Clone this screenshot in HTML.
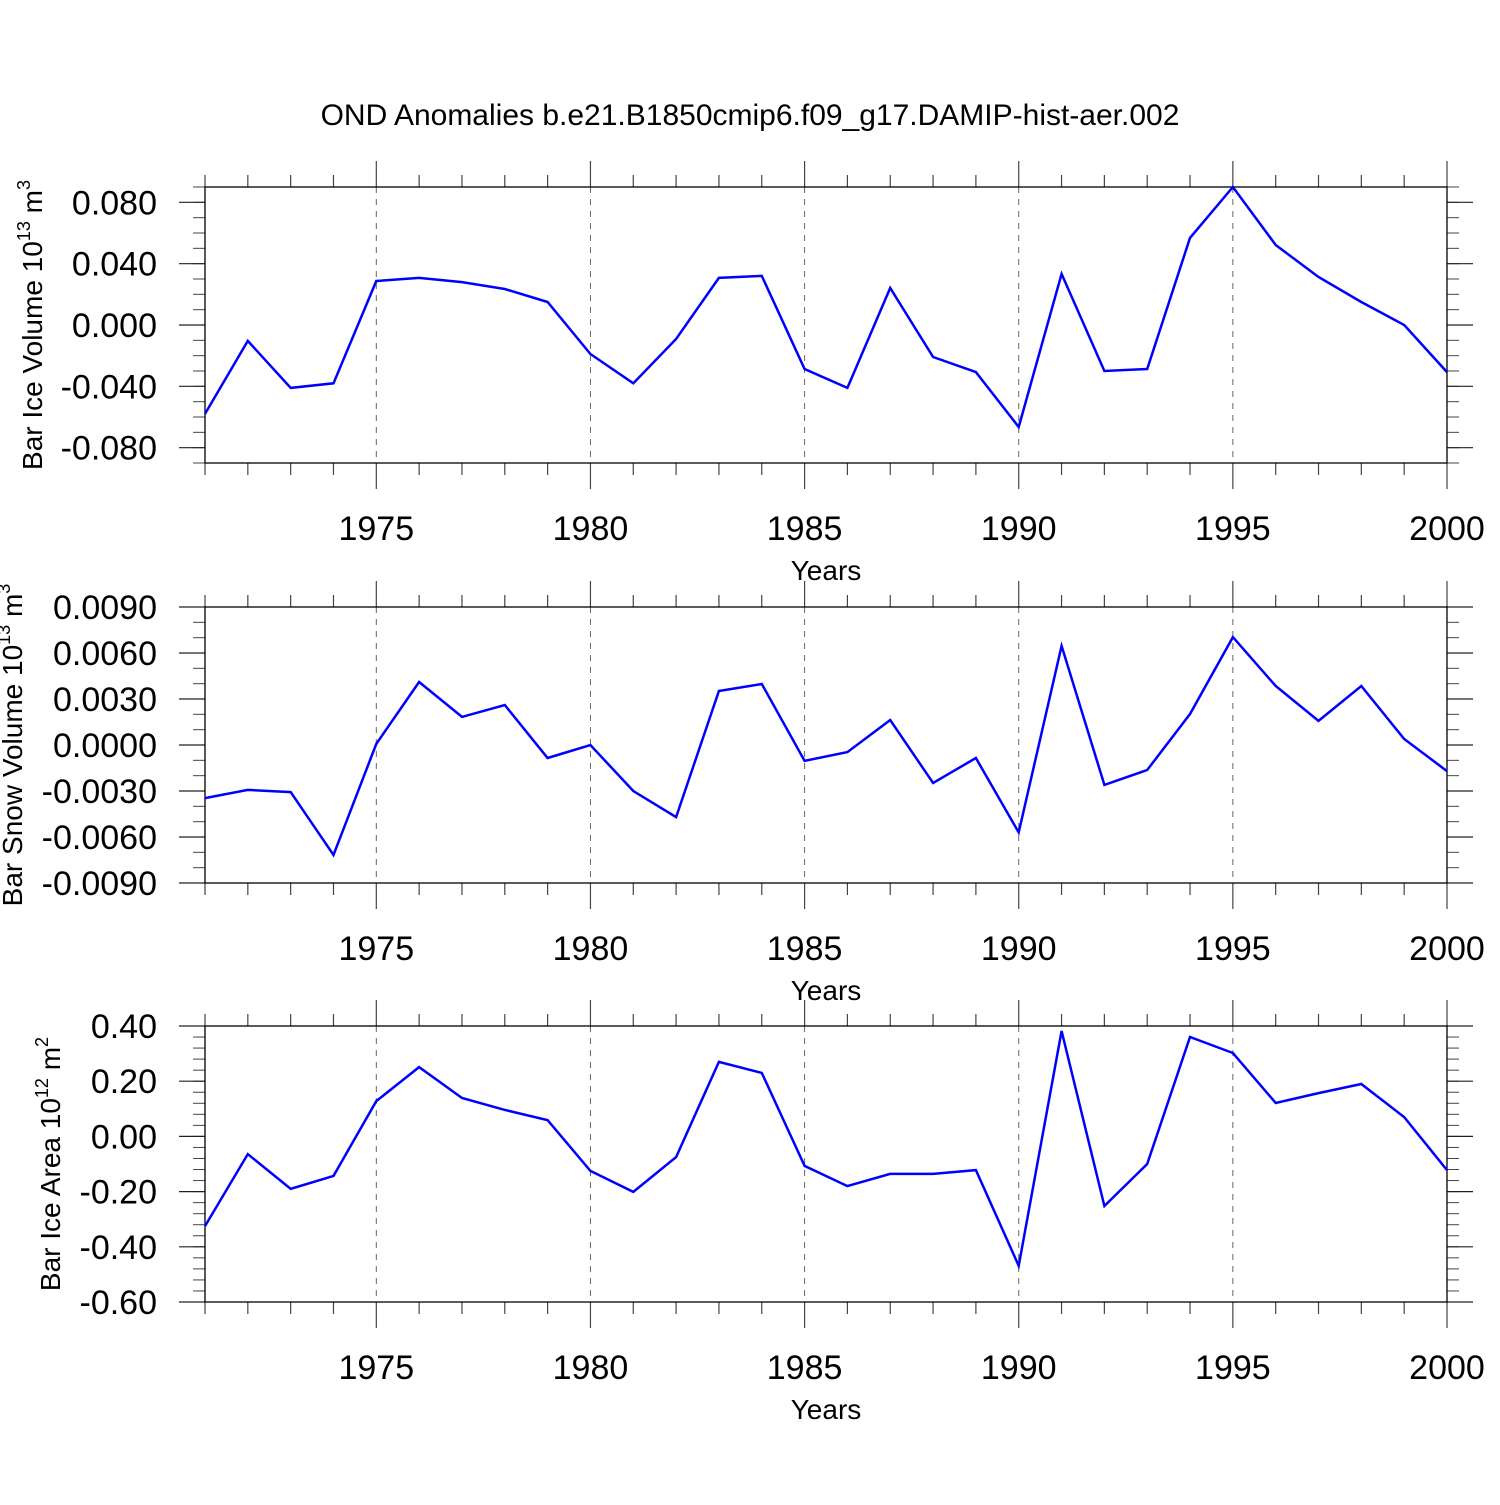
<!DOCTYPE html>
<html><head><meta charset="utf-8"><style>
html,body{margin:0;padding:0;background:#fff}
svg text{font-family:"Liberation Sans",sans-serif;fill:#000}
</style></head><body>
<svg id="chart" width="1500" height="1500" viewBox="0 0 1500 1500" xmlns="http://www.w3.org/2000/svg">
<text x="750" y="125" font-size="30" text-anchor="middle">OND Anomalies b.e21.B1850cmip6.f09_g17.DAMIP-hist-aer.002</text>
</svg>
<script>
const years = [];
for (let y = 1971; y <= 2000; y++) years.push(y);
const iceVolume = [-0.058,-0.0104,-0.041,-0.038,0.0287,0.0307,0.028,0.0235,0.015,-0.0189,-0.038,-0.0091,0.0307,0.032,-0.0287,-0.041,0.0241,-0.0209,-0.0307,-0.0665,0.0333,-0.030,-0.0287,0.0568,0.090,0.0522,0.0313,0.015,0.0,-0.0307];
const snowVolume = [-0.00346,-0.00293,-0.00307,-0.00717,0.00007,0.00411,0.00183,0.00261,-0.00085,0.0,-0.0030,-0.0047,0.00352,0.00398,-0.00104,-0.00046,0.00163,-0.00248,-0.00085,-0.0057,0.00646,-0.0026,-0.00163,0.00202,0.00704,0.00385,0.00157,0.00385,0.00039,-0.0017];
const iceArea = [-0.325,-0.064,-0.19,-0.143,0.128,0.251,0.139,0.096,0.059,-0.125,-0.201,-0.075,0.27,0.23,-0.107,-0.18,-0.136,-0.136,-0.122,-0.469,0.382,-0.252,-0.1,0.36,0.302,0.121,0.157,0.19,0.07,-0.122];
const xTickYears = [1975,1980,1985,1990,1995,2000];
const ticks1 = ["0.080","0.040","0.000","-0.040","-0.080"];
const ticks2 = ["0.0090","0.0060","0.0030","0.0000","-0.0030","-0.0060","-0.0090"];
const ticks3 = ["0.40","0.20","0.00","-0.20","-0.40","-0.60"];

const NS = "http://www.w3.org/2000/svg";
const svg = document.getElementById('chart');
const X0 = 205, X1 = 1447;
function xs(yr){ return X0 + (yr - 1971) / 29 * (X1 - X0); }
function mk(tag, attrs, parent){ const e = document.createElementNS(NS, tag); for (const k in attrs) e.setAttribute(k, attrs[k]); (parent||svg).appendChild(e); return e; }

function panel(cfg){
  const g = mk('g', {});
  
  
  const top = cfg.top, bot = cfg.top + 276;
  const ys = v => bot - (v - cfg.min) / (cfg.max - cfg.min) * (bot - top);
  xTickYears.forEach(yr => { if (yr < 2000) mk('line', {x1:xs(yr), x2:xs(yr), y1:top, y2:bot, stroke:'#666', 'stroke-width':1, 'stroke-dasharray':'6,6'}, g); });
  years.forEach(yr => {
    const major = xTickYears.includes(yr);
    const L = major ? 26 : 12;
    mk('line', {x1:xs(yr), x2:xs(yr), y1:top - L, y2:top, stroke:'#444', 'stroke-width':1.2}, g);
    mk('line', {x1:xs(yr), x2:xs(yr), y1:bot, y2:bot + L, stroke:'#444', 'stroke-width':1.2}, g);
  });
  xTickYears.forEach(yr => {
    const t = mk('text', {x:xs(yr), y:bot + 77, 'font-size':34, 'text-anchor':'middle'}, g);
    t.textContent = yr;
    
    
  });
  const xt = mk('text', {x:826, y:bot + 117, 'font-size':28, 'text-anchor':'middle'}, g);
  xt.textContent = 'Years';
  
  
  const n = Math.round((cfg.max - cfg.min) / cfg.minor);
  for (let i = 0; i <= n; i++) {
    const v = cfg.min + i * cfg.minor;
    const y = ys(v);
    mk('line', {x1:X0 - 12, x2:X0, y1:y, y2:y, stroke:'#444', 'stroke-width':1}, g);
    mk('line', {x1:X1, x2:X1 + 12, y1:y, y2:y, stroke:'#444', 'stroke-width':1}, g);
  }
  cfg.labels.forEach(lab => {
    const v = parseFloat(lab), y = ys(v);
    mk('line', {x1:X0 - 26, x2:X0, y1:y, y2:y, stroke:'#222', 'stroke-width':1.2}, g);
    mk('line', {x1:X1, x2:X1 + 26, y1:y, y2:y, stroke:'#222', 'stroke-width':1.2}, g);
    const t = mk('text', {x:157, y:y + 12, 'font-size':34, 'text-anchor':'end'}, g);
    t.textContent = lab;
    
    
  });
  mk('rect', {x:X0, y:top, width:X1 - X0, height:bot - top, fill:'none', stroke:'#000', 'stroke-width':1.3}, g);
  const pts = cfg.data.map((v, i) => xs(years[i]).toFixed(1) + ',' + ys(v).toFixed(1)).join(' ');
  const pl = mk('polyline', {points:pts, fill:'none', stroke:'#0000ff', 'stroke-width':2.5, 'stroke-linejoin':'miter'}, g);
  
  
  const cy = (top + bot) / 2;
  const t = mk('text', {x:cfg.tx, y:cy, 'font-size':28, 'text-anchor':'middle', transform:'rotate(-90 ' + cfg.tx + ' ' + cy + ')'}, g);
  
  
  t.appendChild(document.createTextNode(cfg.title + ' 10'));
  const s1 = mk('tspan', {'font-size':18, dy:-12}, t); s1.textContent = cfg.exp;
  const s2 = mk('tspan', {dy:12}, t); s2.textContent = ' m';
  const s3 = mk('tspan', {'font-size':18, dy:-12}, t); s3.textContent = cfg.unitExp;
}
panel({name:'ice-volume-panel', top:187, min:-0.09, max:0.09, minor:0.01, labels:ticks1, data:iceVolume, tx:42, title:'Bar Ice Volume', exp:'13', unitExp:'3'});
panel({name:'snow-volume-panel', top:607, min:-0.009, max:0.009, minor:0.001, labels:ticks2, data:snowVolume, tx:22, title:'Bar Snow Volume', exp:'13', unitExp:'3'});
panel({name:'ice-area-panel', top:1026, min:-0.6, max:0.4, minor:0.04, labels:ticks3, data:iceArea, tx:60, title:'Bar Ice Area', exp:'12', unitExp:'2'});
</script>
</body></html>
